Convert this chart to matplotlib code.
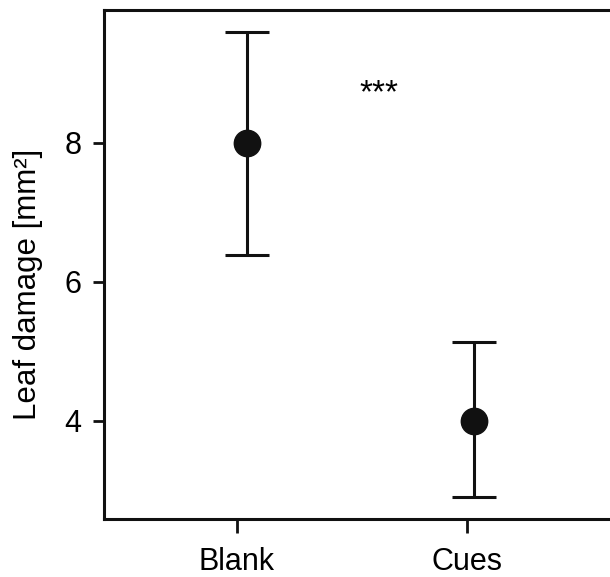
import numpy as np
import matplotlib.pyplot as plt

plt.rcParams['font.family'] = ['Liberation Sans', 'DejaVu Sans']

# %% Data
groups = ['Blank', 'Cues']
tick_pos = [1, 2]
point_pos = [1.044, 2.031]
means = [8.0, 4.0]
upper = [9.59, 5.14]
lower = [6.39, 2.91]

err = np.array([[m - lo for m, lo in zip(means, lower)],
                [up - m for m, up in zip(means, upper)]])

# %% Plot
fig = plt.figure(figsize=(6.1, 5.77), dpi=100)
ax = fig.add_axes([0.170, 0.1005, 0.835, 0.8825])
ax.errorbar(point_pos, means, yerr=err, fmt='o', color='#111111',
            markersize=19, elinewidth=2.2, capsize=16, capthick=2.2)

ax.set_xlim(0.424, 2.633)
ax.set_ylim(2.59, 9.91)
ax.set_xticks(tick_pos)
ax.set_xticklabels(groups)
ax.set_yticks([4, 6, 8])
ax.set_ylabel('Leaf damage [mm²]', fontsize=22.5)
ax.yaxis.set_label_coords(-0.12, 0.46)
ax.tick_params(labelsize=22, width=2, color='#111111')
ax.tick_params(axis='y', length=8, pad=8)
ax.tick_params(axis='x', length=10, pad=10)
for side in ['left', 'top', 'bottom']:
    ax.spines[side].set_linewidth(2.2)
    ax.spines[side].set_color('#111111')
ax.spines['right'].set_visible(False)

ax.text(1.62, 8.7, '***', fontsize=24, ha='center', va='center')

fig.savefig('out.png', dpi=100)
